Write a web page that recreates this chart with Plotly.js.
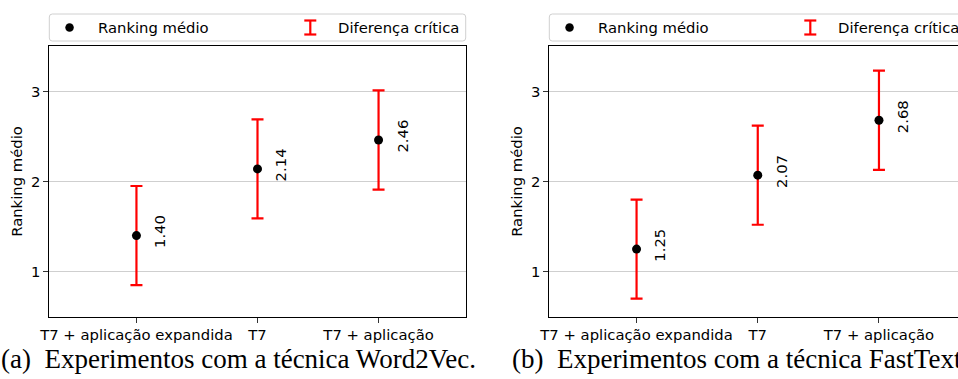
<!DOCTYPE html>
<html>
<head>
<meta charset="utf-8">
<script src="https://cdn.plot.ly/plotly-3.0.1.min.js"></script>
<style>html,body{margin:0;padding:0;background:#fff;}#chart{width:958px;height:379px;}</style>
</head>
<body>
<div id="chart"></div>
<script>
// ---- data ----
const categories = ["T7 + aplicação expandida", "T7", "T7 + aplicação"];
const word2vecMeans = [1.40, 2.14, 2.46];
const fasttextMeans = [1.25, 2.07, 2.68];
const word2vecCD = [0.55, 0.55, 0.55];
const fasttextCD = [0.55, 0.55, 0.55];
const yTickValues = [1, 2, 3];
const legendLabels = ["Ranking médio", "Diferença crítica"];
const yAxisLabel = "Ranking médio";
const captions = ["(a)\u2002Experimentos com a técnica Word2Vec.", "(b)\u2002Experimentos com a técnica FastText."];

// ---- layout helpers ----
const W = 958, H = 379;
const px = x => x / W;
const py = y => 1 - y / H;
const SANS = "DejaVu Sans, sans-serif";
const FS = 14.8;

const panels = [
  {means: word2vecMeans, cd: word2vecCD, xa: "x", ya: "y", left: 49.3, right: 465.7},
  {means: fasttextMeans, cd: fasttextCD, xa: "x2", ya: "y2", left: 549.3, right: 965.7}
];

const traces = [];
const annotations = [];
const shapes = [];

panels.forEach((p, i) => {
  traces.push({
    type: "scatter", mode: "markers",
    x: categories, y: p.means,
    xaxis: p.xa, yaxis: p.ya,
    marker: {color: "#000", size: 9},
    error_y: {type: "data", array: p.cd, visible: true, color: "#ff0000", thickness: 2.2, width: 6},
    showlegend: false, hoverinfo: "skip"
  });
  p.means.forEach((v, k) => {
    annotations.push({
      xref: p.xa, yref: p.ya, x: categories[k], y: v,
      text: v.toFixed(2), textangle: -90, showarrow: false,
      xanchor: "center", yanchor: "middle", xshift: 23, yshift: 4,
      font: {family: SANS, size: FS, color: "#000"}
    });
  });
  // legend (matplotlib style, expanded two columns)
  const L = p.left, R = p.right, T = 14, B = 41, r = 3;
  shapes.push({
    type: "path", xref: "paper", yref: "paper",
    path: `M ${px(L + r)} ${py(T)} L ${px(R - r)} ${py(T)} Q ${px(R)} ${py(T)} ${px(R)} ${py(T + r)} L ${px(R)} ${py(B - r)} Q ${px(R)} ${py(B)} ${px(R - r)} ${py(B)} L ${px(L + r)} ${py(B)} Q ${px(L)} ${py(B)} ${px(L)} ${py(B - r)} L ${px(L)} ${py(T + r)} Q ${px(L)} ${py(T)} ${px(L + r)} ${py(T)} Z`,
    line: {color: "#d0d0d0", width: 1}, fillcolor: "rgba(255,255,255,0.8)"
  });
  const cy = 27.5;
  shapes.push({type: "circle", xref: "paper", yref: "paper",
    x0: px(L + 16), x1: px(L + 24.5), y0: py(cy - 4.25), y1: py(cy + 4.25),
    fillcolor: "#000", line: {color: "#000", width: 0}});
  const ix = L + 261, it = 20.5, ib = 34.5;
  shapes.push({type: "line", xref: "paper", yref: "paper", x0: px(ix), x1: px(ix), y0: py(it), y1: py(ib), line: {color: "#ff0000", width: 2.2}});
  shapes.push({type: "line", xref: "paper", yref: "paper", x0: px(ix - 6), x1: px(ix + 6), y0: py(it), y1: py(it), line: {color: "#ff0000", width: 2.2}});
  shapes.push({type: "line", xref: "paper", yref: "paper", x0: px(ix - 6), x1: px(ix + 6), y0: py(ib), y1: py(ib), line: {color: "#ff0000", width: 2.2}});
  annotations.push({xref: "paper", yref: "paper", x: px(L + 47), y: py(cy), text: legendLabels[0],
    showarrow: false, xanchor: "left", yanchor: "middle", font: {family: SANS, size: FS, color: "#000"}});
  annotations.push({xref: "paper", yref: "paper", x: px(L + 287), y: py(cy), text: legendLabels[1],
    showarrow: false, xanchor: "left", yanchor: "middle", font: {family: SANS, size: FS, color: "#000"}});
  // caption
  annotations.push({xref: "paper", yref: "paper", x: px(i === 0 ? 238 : 740), y: py(359), text: captions[i],
    showarrow: false, xanchor: "center", yanchor: "middle",
    font: {family: "Liberation Serif, Times New Roman, serif", size: 27, color: "#000"}});
});

const xBase = {
  type: "category", showline: true, linecolor: "#000", linewidth: 1,
  ticks: "outside", ticklen: 5, tickcolor: "#333", tickwidth: 1,
  showgrid: false, zeroline: false, fixedrange: true,
  tickfont: {family: SANS, size: FS, color: "#000"}
};
const yBase = {
  range: [0.5, 3.5], tickvals: yTickValues, ticktext: yTickValues.map(String),
  showline: true, linecolor: "#000", linewidth: 1,
  ticks: "outside", ticklen: 5, tickcolor: "#333", tickwidth: 1,
  showgrid: true, gridcolor: "#cfcfcf", gridwidth: 1, zeroline: false,
  tickfont: {family: SANS, size: FS, color: "#000"},
  title: {text: yAxisLabel, font: {family: SANS, size: FS, color: "#000"}, standoff: 4}
};

const layout = {
  width: W, height: H,
  margin: {l: 0, r: 0, t: 0, b: 0, pad: 0},
  paper_bgcolor: "#fff", plot_bgcolor: "#fff",
  showlegend: false,
  xaxis: Object.assign({}, xBase, {domain: [px(49.3), px(465.7)], range: [-0.72, 2.72], mirror: true, anchor: "y"}),
  yaxis: Object.assign({}, yBase, {domain: [py(316.7), py(46.3)], mirror: true, anchor: "x"}),
  xaxis2: Object.assign({}, xBase, {domain: [px(549.3), 1], range: [-0.72, -0.72 + (958 - 549.3) / 121.2], mirror: true, anchor: "y2"}),
  yaxis2: Object.assign({}, yBase, {domain: [py(316.7), py(46.3)], mirror: false, anchor: "x2"}),
  shapes: shapes,
  annotations: annotations
};

Plotly.newPlot("chart", traces, layout, {staticPlot: true, displayModeBar: false});
</script>
</body>
</html>
